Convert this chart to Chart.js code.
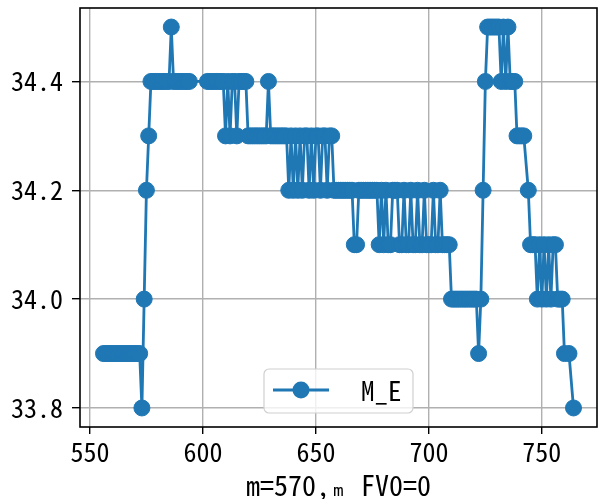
<!DOCTYPE html>
<html>
<head>
<meta charset="utf-8">
<script src="https://cdn.jsdelivr.net/npm/chart.js@4.4.0/dist/chart.umd.min.js"></script>
<style>
  html, body { margin: 0; padding: 0; background: #fff; }
  canvas { display: block; }
</style>
</head>
<body>
<canvas id="chart" width="598" height="499"></canvas>
<script>
// ========================================
// DATA
// ========================================

const xValues = [
    556, 557, 558, 559, 560, 561, 562, 563, 564, 565, 566, 567, 568, 569, 570, 571, 572,
    573, 574, 575, 576,
    577, 578, 579, 580, 581, 582, 583, 584, 585, 586, 587, 588, 589, 590, 591, 592, 593, 594,
    602, 603, 604, 605, 606, 607, 608, 609,
    610, 611, 612, 613, 614, 615, 616, 617, 618, 619, 620,
    621, 622, 623, 624, 625, 626, 627, 628, 629,
    630, 631, 632, 633, 634, 635, 636, 637,
    638, 639, 640, 641, 642, 643, 644, 645, 646, 647, 648, 649, 650, 651, 652, 653, 654, 655, 656, 657,
    658, 659, 660, 661, 662, 663, 664, 665, 666, 667, 668,
    669, 670, 671, 672, 673, 674, 675, 676, 677,
    678, 679, 680, 681, 682, 683, 684, 685, 686, 687, 688, 689, 690, 691, 692, 693,
    694, 695, 696, 697, 698, 699, 700, 701, 702, 703, 704, 705, 706, 707, 708, 709,
    710, 711, 712, 713, 714, 715, 716, 717, 718, 719, 720, 721, 722, 723,
    724, 725, 726, 727, 728, 729, 730, 731, 732, 733, 734, 735, 736, 737, 738,
    739, 740, 741, 742, 744,
    745, 746, 747, 748, 749, 750, 751, 752, 753, 754, 755, 756, 757, 758, 759,
    760, 762, 764
];

const meValues = [
    33.9, 33.9, 33.9, 33.9, 33.9, 33.9, 33.9, 33.9, 33.9, 33.9, 33.9, 33.9, 33.9, 33.9, 33.9, 33.9, 33.9,
    33.8, 34.0, 34.2, 34.3,
    34.4, 34.4, 34.4, 34.4, 34.4, 34.4, 34.4, 34.4, 34.4, 34.5, 34.4, 34.4, 34.4, 34.4, 34.4, 34.4, 34.4, 34.4,
    34.4, 34.4, 34.4, 34.4, 34.4, 34.4, 34.4, 34.4,
    34.3, 34.4, 34.3, 34.4, 34.4, 34.3, 34.4, 34.4, 34.4, 34.4, 34.3,
    34.3, 34.3, 34.3, 34.3, 34.3, 34.3, 34.3, 34.3, 34.4,
    34.3, 34.3, 34.3, 34.3, 34.3, 34.3, 34.3, 34.3,
    34.2, 34.3, 34.2, 34.3, 34.2, 34.3, 34.2, 34.3, 34.3, 34.2, 34.3, 34.2, 34.3, 34.3, 34.2, 34.3, 34.3, 34.2, 34.3, 34.3,
    34.2, 34.2, 34.2, 34.2, 34.2, 34.2, 34.2, 34.2, 34.2, 34.1, 34.1,
    34.2, 34.2, 34.2, 34.2, 34.2, 34.2, 34.2, 34.2, 34.2,
    34.1, 34.2, 34.1, 34.2, 34.1, 34.1, 34.2, 34.2, 34.2, 34.1, 34.1, 34.2, 34.1, 34.1, 34.2, 34.1,
    34.1, 34.2, 34.1, 34.1, 34.2, 34.1, 34.1, 34.1, 34.2, 34.1, 34.1, 34.2, 34.1, 34.1, 34.1, 34.1,
    34.0, 34.0, 34.0, 34.0, 34.0, 34.0, 34.0, 34.0, 34.0, 34.0, 34.0, 34.0, 33.9, 34.0,
    34.2, 34.4, 34.5, 34.5, 34.5, 34.5, 34.5, 34.5, 34.4, 34.5, 34.4, 34.5, 34.4, 34.4, 34.4,
    34.3, 34.3, 34.3, 34.3, 34.2,
    34.1, 34.1, 34.1, 34.0, 34.1, 34.0, 34.1, 34.0, 34.1, 34.0, 34.1, 34.1, 34.0, 34.0, 34.0,
    33.9, 33.9, 33.8
];

const xTicks = [550, 600, 650, 700, 750];
const yTicks = [33.8, 34.0, 34.2, 34.4];
const seriesLabel = 'M_E';
const xTitle = 'm=570,\u2098 FV0=0';

// ========================================
// STYLE
// ========================================

const FONT = "'Noto Sans Mono CJK SC', 'Noto Sans CJK SC', 'DejaVu Sans Mono', monospace";
const BLUE = '#1f77b4';
const GRID = '#b0b0b0';

// matplotlib-like 5% margins around the data
function paddedRange(values, frac) {
    const lo = Math.min(...values);
    const hi = Math.max(...values);
    const pad = (hi - lo) * frac;
    return [lo - pad, hi + pad];
}
const [xMin, xMax] = paddedRange(xValues, 0.05);
const [yMin, yMax] = paddedRange(meValues, 0.05);

// ========================================
// PLUGINS
// ========================================

// legend box, lower centre inside the axes
const legendPlugin = {
    id: 'boxLegend',
    afterDatasetsDraw(chart) {
        const { ctx, chartArea: a } = chart;
        const w = 149, h = 44;
        const x = (a.left + a.right) / 2 - w / 2;
        const y = a.bottom - 14 - h;
        ctx.save();
        ctx.beginPath();
        ctx.roundRect(x, y, w, h, 5);
        ctx.fillStyle = 'rgba(255,255,255,0.8)';
        ctx.fill();
        ctx.strokeStyle = '#d0d0d0';
        ctx.lineWidth = 1.2;
        ctx.stroke();

        const cy = y + h / 2 - 1;
        ctx.strokeStyle = BLUE;
        ctx.lineWidth = 2.8;
        ctx.beginPath();
        ctx.moveTo(x + 9, cy);
        ctx.lineTo(x + 65, cy);
        ctx.stroke();
        ctx.beginPath();
        ctx.arc(x + 37, cy, 8.5, 0, Math.PI * 2);
        ctx.fillStyle = BLUE;
        ctx.fill();

        ctx.fillStyle = '#000';
        ctx.font = '27px ' + FONT;
        ctx.textBaseline = 'middle';
        ctx.textAlign = 'left';
        ctx.fillText(seriesLabel, x + 97, cy + 1);
        ctx.restore();
    }
};

// black frame on all four sides
const framePlugin = {
    id: 'frame',
    afterDraw(chart) {
        const { ctx, chartArea: a } = chart;
        ctx.save();
        ctx.strokeStyle = '#000';
        ctx.lineWidth = 1.6;
        ctx.strokeRect(a.left, a.top, a.right - a.left, a.bottom - a.top);
        ctx.restore();
    }
};

// ========================================
// CHART
// ========================================

new Chart(document.getElementById('chart'), {
    type: 'line',
    data: {
        datasets: [{
            label: seriesLabel,
            data: xValues.map((x, i) => ({ x: x, y: meValues[i] })),
            borderColor: BLUE,
            backgroundColor: BLUE,
            borderWidth: 2.8,
            pointRadius: 8,
            pointBorderWidth: 1,
            pointBackgroundColor: BLUE,
            pointBorderColor: BLUE,
            tension: 0,
            fill: false
        }]
    },
    options: {
        responsive: false,
        animation: false,
        devicePixelRatio: 1,
        layout: { autoPadding: false, padding: { top: 8, right: 1, left: 0, bottom: 0 } },
        plugins: {
            legend: { display: false },
            tooltip: { enabled: false }
        },
        scales: {
            x: {
                type: 'linear',
                min: xMin,
                max: xMax,
                afterBuildTicks: s => { s.ticks = xTicks.map(v => ({ value: v })); },
                afterFit: s => {
                    s.height = 72;
                    s.paddingLeft = 0;
                    s.paddingRight = 0;
                },
                border: { display: false },
                grid: { color: GRID, lineWidth: 1.4, tickColor: '#000', tickLength: 7, tickWidth: 1.4 },
                ticks: {
                    color: '#000',
                    padding: 3,
                    maxRotation: 0,
                    font: { family: FONT, size: 26 },
                    callback: v => String(v)
                },
                title: {
                    display: true,
                    text: xTitle,
                    color: '#000',
                    font: { family: FONT, size: 28, lineHeight: 1 },
                    padding: { top: 0, bottom: 0 }
                }
            },
            y: {
                type: 'linear',
                min: yMin,
                max: yMax,
                afterBuildTicks: s => { s.ticks = yTicks.map(v => ({ value: v })); },
                afterFit: s => {
                    s.width = 80;
                    s.paddingTop = 0;
                    s.paddingBottom = 0;
                },
                border: { display: false },
                grid: { color: GRID, lineWidth: 1.4, tickColor: '#000', tickLength: 8, tickWidth: 1.4 },
                ticks: {
                    color: '#000',
                    padding: 9,
                    font: { family: FONT, size: 26 },
                    callback: v => Number(v).toFixed(1)
                }
            }
        }
    },
    plugins: [legendPlugin, framePlugin]
});
</script>
</body>
</html>
